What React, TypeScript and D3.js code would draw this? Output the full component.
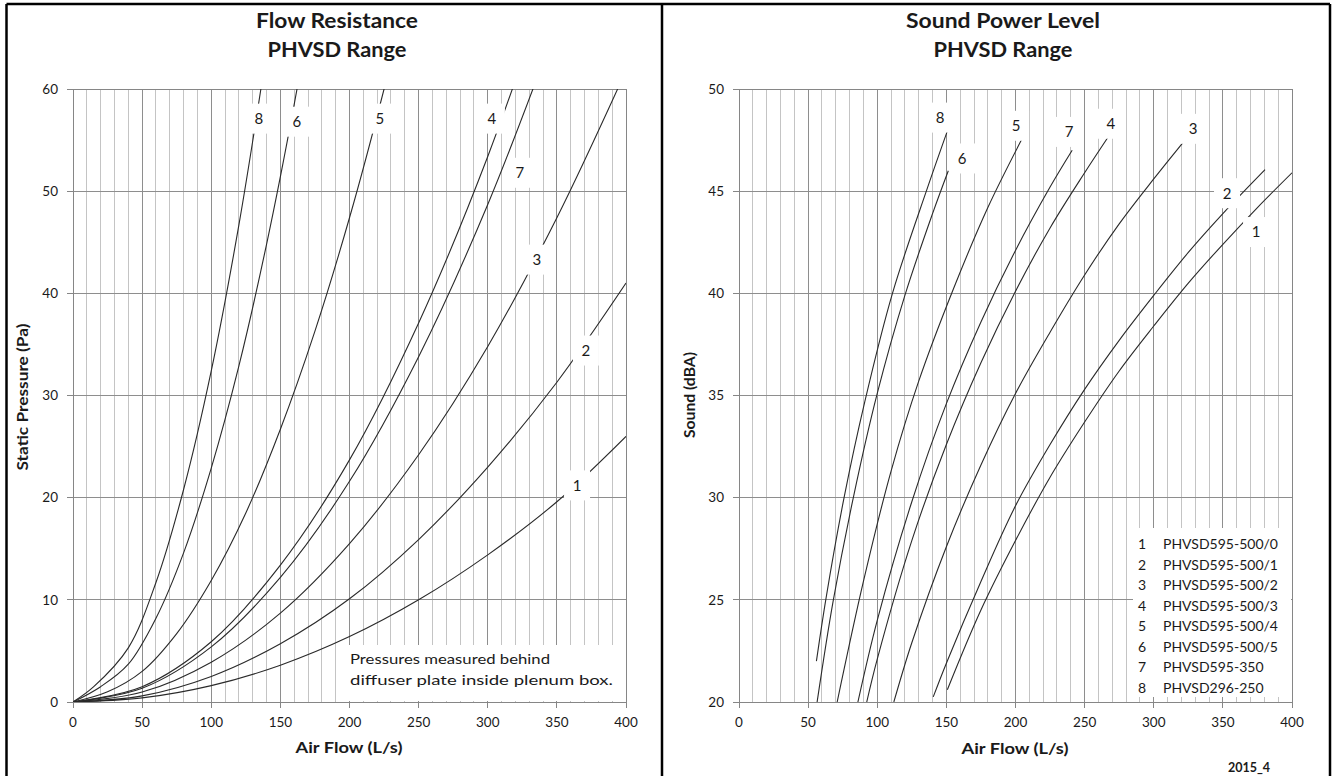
import React from 'react';
import * as d3 from 'd3';

// ---------- ticks ----------
const flowTicks = [0, 50, 100, 150, 200, 250, 300, 350, 400];
const flowMinor = d3.range(0, 401, 10);
const pressureTicks = [0, 10, 20, 30, 40, 50, 60];
const soundTicks = [20, 25, 30, 35, 40, 45, 50];

// ---------- Flow resistance (Pa vs L/s) ----------
const res1Flow = [0, 50, 100, 150, 200, 250, 300, 350, 400];
const res1P = [0, 0.4, 1.6, 3.6, 6.4, 10, 14.4, 19.6, 26];
const res2Flow = [0, 50, 100, 150, 200, 250, 300, 350, 400];
const res2P = [0, 0.6, 2.5, 5.7, 10.1, 15.9, 23, 31.3, 41];
const res3Flow = [0, 50, 100, 150, 200, 250, 300, 350, 400];
const res3P = [0, 0.97, 3.9, 8.7, 15.5, 24.2, 34.8, 47.4, 61.8];
const res4Flow = [0, 50, 100, 150, 200, 250, 300, 350];
const res4P = [0, 1.5, 5.9, 13.4, 23.7, 37.1, 53.4, 72.7];
const res5Flow = [0, 25, 50, 75, 100, 125, 150, 175, 200, 225, 250];
const res5P = [0, 1.0, 3.0, 6.7, 11.9, 18.5, 26.7, 36.3, 47.4, 60, 74];
const res6Flow = [0, 20, 40, 60, 80, 100, 120, 140, 160, 180];
const res6P = [0, 1.5, 3.7, 8.2, 14.6, 22.9, 32.9, 44.8, 58.5, 74];
const res7Flow = [0, 50, 100, 150, 200, 250, 300, 350];
const res7P = [0, 1.35, 5.4, 12.2, 21.6, 33.8, 48.7, 66.3];
const res8Flow = [0, 15, 40, 60, 80, 100, 120, 140];
const res8P = [0, 1.5, 5.3, 11.7, 20.8, 32.4, 46.7, 63.6];

// label anchor points (data coords) for left chart
const resLabelIds = ['8', '6', '5', '4', '7', '3', '2', '1'];
const resLabelFlow = [134.5, 162, 222, 303, 323.3, 335.6, 371, 364.6];
const resLabelP = [57.1, 56.8, 57.1, 57.1, 51.8, 43.3, 34.4, 21.2];

// ---------- Sound power (dBA vs L/s) ----------
const snd1Flow = [150.7, 175, 200, 225, 250, 275, 300, 325, 350, 375, 400];
const snd1S = [20.6, 24.5, 27.9, 31.0, 33.7, 36.2, 38.4, 40.5, 42.4, 44.2, 45.9];
const snd2Flow = [140.5, 150, 175, 200, 225, 250, 275, 300, 325, 350, 380.5];
const snd2S = [20.25, 21.9, 25.9, 29.6, 32.6, 35.3, 37.7, 39.9, 42.0, 43.9, 46.05];
const snd3Flow = [112, 125, 150, 175, 200, 225, 250, 275, 300, 322.6];
const snd3S = [20, 22.9, 27.6, 31.6, 35.1, 38.1, 40.9, 43.4, 45.6, 47.5];
const snd4Flow = [92.4, 100, 125, 150, 175, 200, 225, 250, 267.5];
const snd4S = [20, 22.1, 27.9, 32.6, 36.6, 40.1, 43.2, 45.9, 47.7];
const snd5Flow = [71, 90, 110, 130, 155, 180, 205];
const snd5S = [20, 25.9, 31.3, 35.7, 40.2, 44.2, 47.6];
const snd6Flow = [56.5, 68, 83, 100, 120, 140, 151.4];
const snd6S = [20, 24.9, 30.1, 35.1, 39.9, 43.9, 46.0];
const snd7Flow = [86, 100, 125, 150, 175, 200, 225, 241];
const snd7S = [20, 24.0, 29.8, 34.6, 38.6, 42.1, 45.2, 47.0];
const snd8Flow = [56, 63, 76, 91, 111, 136, 151];
const snd8S = [22, 25.1, 30.0, 34.7, 40.0, 45.1, 48.0];

const sndLabelIds = ['8', '6', '5', '7', '4', '3', '2', '1'];
const sndLabelFlow = [145.4, 161.3, 200.4, 238.7, 269, 328.4, 353, 374];
const sndLabelS = [48.6, 46.6, 48.2, 47.9, 48.3, 48.05, 44.9, 43.0];

// legend
const legendNums = ['1', '2', '3', '4', '5', '6', '7', '8'];
const legendNames = [
  'PHVSD595-500/0',
  'PHVSD595-500/1',
  'PHVSD595-500/2',
  'PHVSD595-500/3',
  'PHVSD595-500/4',
  'PHVSD595-500/5',
  'PHVSD595-350',
  'PHVSD296-250',
];

const resSeries: [number[], number[]][] = [
  [res1Flow, res1P], [res2Flow, res2P], [res3Flow, res3P], [res4Flow, res4P],
  [res5Flow, res5P], [res6Flow, res6P], [res7Flow, res7P], [res8Flow, res8P],
];
const sndSeries: [number[], number[]][] = [
  [snd1Flow, snd1S], [snd2Flow, snd2S], [snd3Flow, snd3S], [snd4Flow, snd4S],
  [snd5Flow, snd5S], [snd6Flow, snd6S], [snd7Flow, snd7S], [snd8Flow, snd8S],
];

const FONT = 'Lato, "Open Sans", sans-serif';
const MINOR = '#c4c4c4';
const MAJOR = '#8e8e8e';
const AXIS = '#868686';
const CURVE = '#2a2a2a';
const TXT = '#1a1a1a';

type PanelProps = {
  id: string;
  x: d3.ScaleLinear<number, number>;
  y: d3.ScaleLinear<number, number>;
  yTicks: number[];
  series: [number[], number[]][];
  labelIds: string[];
  labelX: number[];
  labelY: number[];
  yLabelRight: number;
};

function Panel({ id, x, y, yTicks, series, labelIds, labelX, labelY, yLabelRight }: PanelProps) {
  const [x0, x1] = x.range();
  const [yb, yt] = y.range();
  const line = d3
    .line<[number, number]>()
    .x((d) => x(d[0]))
    .y((d) => y(d[1]))
    .curve(d3.curveCatmullRom.alpha(0.5));
  return (
    <g>
      <defs>
        <clipPath id={`clip-${id}`}>
          <rect x={x0} y={yt} width={x1 - x0} height={yb - yt} />
        </clipPath>
      </defs>
      <rect x={x0} y={yt} width={x1 - x0} height={yb - yt} fill="#fff" />
      {flowMinor.map((v) => (
        <line
          key={`v${v}`}
          x1={x(v)}
          x2={x(v)}
          y1={yt}
          y2={yb}
          stroke={v % 50 === 0 ? MAJOR : MINOR}
          strokeWidth={1}
          shapeRendering="crispEdges"
        />
      ))}
      {yTicks.map((v) => (
        <line
          key={`h${v}`}
          x1={x0}
          x2={x1}
          y1={y(v)}
          y2={y(v)}
          stroke={MAJOR}
          strokeWidth={1}
          shapeRendering="crispEdges"
        />
      ))}
      <rect x={x0} y={yt} width={x1 - x0} height={yb - yt} fill="none" stroke={AXIS} strokeWidth={1} shapeRendering="crispEdges" />
      {/* ticks */}
      {yTicks.map((v) => (
        <line key={`yt${v}`} x1={x0 - 6} x2={x0} y1={y(v)} y2={y(v)} stroke={AXIS} shapeRendering="crispEdges" />
      ))}
      {flowTicks.map((v) => (
        <line key={`xt${v}`} x1={x(v)} x2={x(v)} y1={yb} y2={yb + 6} stroke={AXIS} shapeRendering="crispEdges" />
      ))}
      {yTicks.map((v) => (
        <text key={`yl${v}`} x={yLabelRight} y={y(v)} dy="0.35em" textAnchor="end" fontFamily={FONT} fontSize={13.5} fill={TXT}>
          {v}
        </text>
      ))}
      {flowTicks.map((v) => (
        <text key={`xl${v}`} x={x(v)} y={yb + 25} textAnchor="middle" fontFamily={FONT} fontSize={13.5} fill={TXT}>
          {v}
        </text>
      ))}
      {/* curves */}
      <g clipPath={`url(#clip-${id})`}>
        {series.map(([fx, fy], i) => (
          <path
            key={`c${i}`}
            d={line(fx.map((f, j) => [f, fy[j]] as [number, number])) || ''}
            fill="none"
            stroke={CURVE}
            strokeWidth={1.1}
          />
        ))}
      </g>
      {/* labels */}
      {labelIds.map((l, i) => (
        <g key={`lb${l}`}>
          <rect x={x(labelX[i]) - 13} y={y(labelY[i]) - 15} width={26} height={30} fill="#fff" />
          <text x={x(labelX[i])} y={y(labelY[i])} dy="0.36em" textAnchor="middle" fontFamily={FONT} fontSize={15} fill={TXT}>
            {l}
          </text>
        </g>
      ))}
    </g>
  );
}

export default function App() {
  const xL = d3.scaleLinear().domain([0, 400]).range([73, 626]);
  const yL = d3.scaleLinear().domain([0, 60]).range([702, 89]);
  const xR = d3.scaleLinear().domain([0, 400]).range([739, 1292]);
  const yR = d3.scaleLinear().domain([20, 50]).range([702, 89]);

  return (
    <div style={{ position: 'absolute', left: 0, top: 0 }}>
      <svg width={1335} height={776} viewBox="0 0 1335 776" style={{ display: 'block', background: '#fff' }}>
        <rect x={0} y={0} width={1335} height={776} fill="#fff" />

        {/* titles */}
        <text x={337} y={28} textAnchor="middle" fontFamily={FONT} fontWeight="bold" fontSize={20} fill={TXT} textLength={162} lengthAdjust="spacingAndGlyphs">
          Flow Resistance
        </text>
        <text x={337} y={57} textAnchor="middle" fontFamily={FONT} fontWeight="bold" fontSize={20} fill={TXT} textLength={139} lengthAdjust="spacingAndGlyphs">
          PHVSD  Range
        </text>
        <text x={1003} y={28} textAnchor="middle" fontFamily={FONT} fontWeight="bold" fontSize={20} fill={TXT} textLength={194} lengthAdjust="spacingAndGlyphs">
          Sound  Power Level
        </text>
        <text x={1003} y={57} textAnchor="middle" fontFamily={FONT} fontWeight="bold" fontSize={20} fill={TXT} textLength={139} lengthAdjust="spacingAndGlyphs">
          PHVSD  Range
        </text>

        <Panel
          id="res"
          x={xL}
          y={yL}
          yTicks={pressureTicks}
          series={resSeries}
          labelIds={resLabelIds}
          labelX={resLabelFlow}
          labelY={resLabelP}
          yLabelRight={58}
        />
        <Panel
          id="snd"
          x={xR}
          y={yR}
          yTicks={soundTicks}
          series={sndSeries}
          labelIds={sndLabelIds}
          labelX={sndLabelFlow}
          labelY={sndLabelS}
          yLabelRight={724}
        />

        {/* note box on left chart */}
        <rect x={343} y={645} width={282} height={56} fill="#fff" />
        <text x={350} y={664} fontFamily={FONT} fontSize={14} fill={TXT} textLength={200} lengthAdjust="spacingAndGlyphs">
          Pressures measured behind
        </text>
        <text x={350} y={685} fontFamily={FONT} fontSize={14} fill={TXT} textLength={263} lengthAdjust="spacingAndGlyphs">
          diffuser plate inside plenum box.
        </text>

        {/* legend on right chart */}
        <rect x={1133} y={528} width={158} height={169} fill="#fff" />
        {legendNums.map((n, i) => (
          <g key={`lg${n}`}>
            <text x={1142} y={544 + i * 20.57} dy="0.36em" textAnchor="middle" fontFamily={FONT} fontSize={14} fill={TXT}>
              {n}
            </text>
            <text x={1163} y={544 + i * 20.57} dy="0.36em" fontFamily={FONT} fontSize={14} fill={TXT}>
              {legendNames[i]}
            </text>
          </g>
        ))}

        {/* axis titles */}
        <text x={349} y={753} textAnchor="middle" fontFamily={FONT} fontWeight="bold" fontSize={16} fill={TXT} textLength={107} lengthAdjust="spacingAndGlyphs">
          Air Flow (L/s)
        </text>
        <text x={1015} y={754} textAnchor="middle" fontFamily={FONT} fontWeight="bold" fontSize={16} fill={TXT} textLength={107} lengthAdjust="spacingAndGlyphs">
          Air Flow (L/s)
        </text>
        <text transform="translate(28,397) rotate(-90)" textAnchor="middle" fontFamily={FONT} fontWeight="bold" fontSize={15} fill={TXT} textLength={147} lengthAdjust="spacingAndGlyphs">
          Static Pressure (Pa)
        </text>
        <text transform="translate(695,395) rotate(-90)" textAnchor="middle" fontFamily={FONT} fontWeight="bold" fontSize={15} fill={TXT} textLength={86} lengthAdjust="spacingAndGlyphs">
          Sound (dBA)
        </text>
        <text x={1249} y={772} textAnchor="middle" fontFamily={FONT} fontWeight="bold" fontSize={12.5} fill={TXT}>
          2015_4
        </text>

        {/* outer frame */}
        <line x1={6.5} x2={1330} y1={4} y2={4} stroke="#000" strokeWidth={2.5} />
        <line x1={6.5} x2={6.5} y1={4} y2={776} stroke="#000" strokeWidth={2.5} />
        <line x1={662} x2={662} y1={4} y2={776} stroke="#000" strokeWidth={2.5} />
        <line x1={1330} x2={1330} y1={4} y2={776} stroke="#000" strokeWidth={2.5} />
      </svg>
    </div>
  );
}
